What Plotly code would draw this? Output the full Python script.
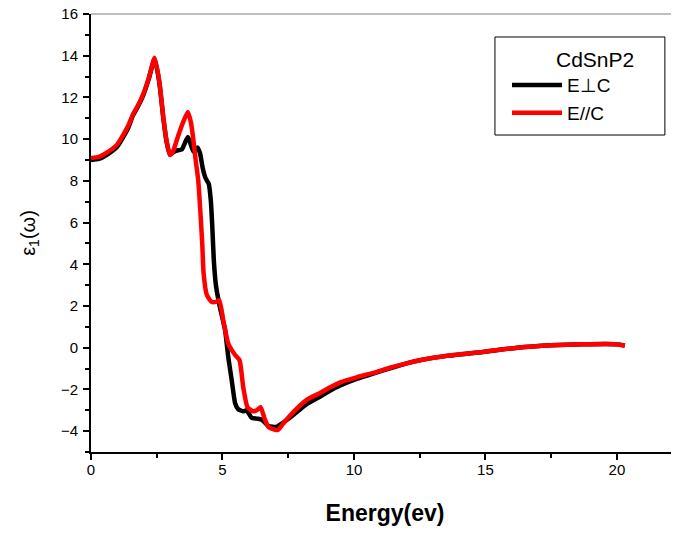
import plotly.graph_objects as go

# Black curve: E perpendicular to C
energy_perp = [0.0, 0.3, 0.6, 1.0, 1.4, 1.6, 1.8, 2.0, 2.2, 2.42, 2.6, 2.75, 2.87, 3.0, 3.1, 3.25,
               3.45, 3.55, 3.68, 3.78, 3.9, 4.05, 4.15, 4.25, 4.35, 4.48, 4.56, 4.62, 4.67, 4.75,
               4.9, 5.1, 5.22, 5.35, 5.48, 5.6, 5.79, 5.92, 6.1, 6.3, 6.5, 6.75, 7.05, 7.3, 7.57,
               8.2, 8.7, 9.1, 9.5, 10.1, 10.7, 11.4, 12.0, 12.5, 13.6, 14.9, 16.2, 17.5, 18.7,
               20.0, 20.3]
eps_perp = [9.0, 9.05, 9.25, 9.65, 10.5, 11.15, 11.6, 12.15, 12.9, 13.85, 12.7, 11.0, 9.9, 9.25,
            9.35, 9.45, 9.5, 9.75, 10.1, 9.8, 9.4, 9.6, 9.3, 8.6, 8.15, 7.85, 7.0, 5.6, 4.2, 3.0,
            1.95, 0.84, -0.45, -1.55, -2.66, -2.95, -3.05, -3.0, -3.35, -3.4, -3.45, -3.75, -3.8,
            -3.6, -3.35, -2.7, -2.35, -2.05, -1.8, -1.5, -1.25, -0.98, -0.75, -0.6, -0.38, -0.2,
            0.0, 0.12, 0.17, 0.17, 0.1]

# Red curve: E parallel to C
energy_par = [0.0, 0.3, 0.6, 1.0, 1.4, 1.6, 1.8, 2.0, 2.2, 2.42, 2.6, 2.75, 2.87, 3.0, 3.1, 3.3,
              3.5, 3.68, 3.8, 3.9, 3.98, 4.08, 4.17, 4.23, 4.28, 4.4, 4.58, 4.75, 4.88, 5.03,
              5.22, 5.48, 5.65, 5.79, 5.95, 6.17, 6.3, 6.45, 6.6, 6.75, 7.1, 7.3, 7.57, 8.2, 8.7,
              9.1, 9.5, 10.1, 10.7, 11.4, 12.0, 12.5, 13.6, 14.9, 16.2, 17.5, 18.7, 20.0, 20.3]
eps_par = [9.1, 9.15, 9.35, 9.75, 10.6, 11.2, 11.65, 12.2, 12.95, 13.9, 12.75, 11.05, 9.95, 9.25,
           9.35, 10.1, 10.8, 11.3, 10.8, 9.9, 9.0, 8.0, 6.3, 5.0, 3.6, 2.55, 2.2, 2.2, 2.28, 1.32,
           0.2, -0.35, -0.6, -1.9, -2.85, -3.05, -3.0, -2.85, -3.4, -3.8, -3.95, -3.65, -3.25,
           -2.5, -2.18, -1.9, -1.65, -1.42, -1.22, -0.95, -0.75, -0.6, -0.37, -0.2, 0.0, 0.12,
           0.17, 0.17, 0.1]

legend_title = "CdSnP2"
series_names = ["E\u22a5C", "E//C"]

FONT = "Liberation Sans, Arial, sans-serif"

fig = go.Figure()
fig.add_trace(go.Scatter(x=energy_perp, y=eps_perp, mode="lines", name=series_names[0],
                         line=dict(color="black", width=4.5, shape="spline", smoothing=0.5)))
fig.add_trace(go.Scatter(x=energy_par, y=eps_par, mode="lines", name=series_names[1],
                         line=dict(color="#ff0000", width=4.5, shape="spline", smoothing=0.5)))

# the page body adds an 8px offset; figure sized so the plot ends at the window edge
fig.update_layout(
    width=671, height=526,
    margin=dict(l=83, r=0, t=6, b=82, autoexpand=False),
    paper_bgcolor="white", plot_bgcolor="white",
    font=dict(family=FONT, color="black", size=15),
    showlegend=True,
    legend=dict(
        x=0.7075, y=0.881, xanchor="left", yanchor="top",
        borderwidth=0, bgcolor="rgba(0,0,0,0)",
        font=dict(size=19, family=FONT),
        itemwidth=50, tracegroupgap=0,
    ),
)

fig.update_xaxes(
    range=[0, 22.36], dtick=5, tick0=0, automargin=False,
    showgrid=False, zeroline=False,
    showline=True, linecolor="black", linewidth=2,
    ticks="outside", ticklen=6, tickwidth=1.5, tickcolor="black",
    minor=dict(dtick=2.5, ticks="outside", ticklen=4, tickwidth=1.5, tickcolor="black", showgrid=False),
    tickfont=dict(size=15, family=FONT),
    ticklabelstandoff=-3,
    title=dict(text="<b>Energy(ev)</b>", font=dict(size=23, family=FONT), standoff=28),
)
fig.update_yaxes(
    range=[-5, 16], dtick=2, tick0=0, automargin=False,
    showgrid=False, zeroline=False,
    showline=True, linecolor="black", linewidth=2,
    ticks="outside", ticklen=6, tickwidth=1.5, tickcolor="black",
    minor=dict(dtick=1, ticks="outside", ticklen=4, tickwidth=1.5, tickcolor="black", showgrid=False),
    tickfont=dict(size=15, family=FONT),
    ticklabelstandoff=2, ticklabeloverflow="allow",
    title=dict(text="\u03b5<sub>1</sub>(\u03c9)", font=dict(size=20, family=FONT), standoff=20),
)

# thin top frame line
fig.add_shape(type="line", xref="paper", yref="paper", x0=0, x1=1, y0=1, y1=1,
              line=dict(color="#7f7f7f", width=1))
# legend frame and title
fig.add_shape(type="rect", xref="paper", yref="paper", x0=0.687, x1=0.976, y0=0.7237, y1=0.9475,
              line=dict(color="black", width=1), fillcolor="rgba(0,0,0,0)", layer="above")
fig.add_annotation(text=legend_title, xref="paper", yref="paper", x=0.857, y=0.895,
                   showarrow=False, xanchor="center", yanchor="middle",
                   font=dict(size=21, family=FONT, color="black"))

fig.write_html("out.html")
